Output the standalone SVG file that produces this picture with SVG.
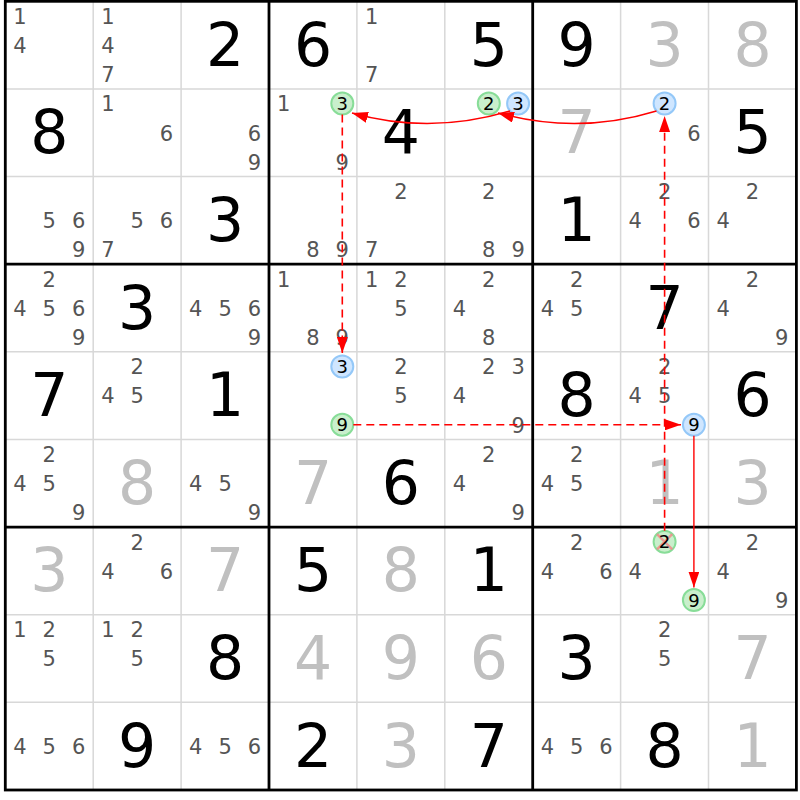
<svg xmlns="http://www.w3.org/2000/svg" width="800" height="800" viewBox="0 0 800 800">
<style>
text{font-family:"DejaVu Sans","Verdana","Liberation Sans",sans-serif;text-anchor:middle}
.g{font-size:60px;fill:#000}
.s{font-size:60px;fill:#c0c0c0}
.c{font-size:21px;fill:#555}
.k{font-size:18px;fill:#000}
.thin{stroke:#d8d8d8;stroke-width:1.5}
.thick{stroke:#000;stroke-width:2.8;fill:none}
.cg{fill:#c9efcc;stroke:#88dd98;stroke-width:2}
.cb{fill:#cfe6ff;stroke:#94c8f8;stroke-width:2}
.x{stroke:#f08a8a;stroke-width:2.5;stroke-opacity:0.85}
.ar{fill:none;stroke:#ff0000;stroke-width:1.4}
.da{stroke-dasharray:8 5;stroke-width:1.6}
</style>
<defs>
<marker id="ah" viewBox="0 0 16 11" refX="16" refY="5.5" markerWidth="16" markerHeight="11" markerUnits="userSpaceOnUse" orient="auto"><path d="M0,0 L16,5.5 L0,11 z" fill="#ff0000"/></marker>
</defs>
<rect x="0" y="0" width="800" height="800" fill="#fff"/>
<g id="grid">
<path class="thin" d="M93.2,1.3V790M181.1,1.3V790M356.9,1.3V790M444.8,1.3V790M620.6,1.3V790M708.5,1.3V790M5.3,88.9H796.4M5.3,176.6H796.4M5.3,351.8H796.4M5.3,439.5H796.4M5.3,614.7H796.4M5.3,702.3H796.4"/>
<path class="thick" d="M269,1.3V790M532.7,1.3V790M5.3,264.2H796.4M5.3,527.1H796.4"/>
<rect class="thick" x="5.3" y="1.3" width="791.1" height="788.7"/>
</g>
<g id="r1c1"><text class="c" x="20" y="23.7">1</text><text class="c" x="20" y="52.9">4</text></g>
<g id="r1c2"><text class="c" x="107.9" y="23.7">1</text><text class="c" x="107.9" y="52.9">4</text><text class="c" x="107.9" y="82.1">7</text></g>
<g id="r1c3"><text class="g" x="225.1" y="65.6">2</text></g>
<g id="r1c4"><text class="g" x="313" y="65.6">6</text></g>
<g id="r1c5"><text class="c" x="371.6" y="23.7">1</text><text class="c" x="371.6" y="82.1">7</text></g>
<g id="r1c6"><text class="g" x="488.8" y="65.6">5</text></g>
<g id="r1c7"><text class="g" x="576.7" y="65.6">9</text></g>
<g id="r1c8"><text class="s" x="664.6" y="65.6">3</text></g>
<g id="r1c9"><text class="s" x="752.5" y="65.6">8</text></g>

<g id="r2c1"><text class="g" x="49.3" y="153.2">8</text></g>
<g id="r2c2"><text class="c" x="107.9" y="111.3">1</text><text class="c" x="166.5" y="140.5">6</text></g>
<g id="r2c3"><text class="c" x="254.4" y="140.5">6</text><text class="c" x="254.4" y="169.7">9</text></g>
<g id="r2c4"><text class="c" x="283.7" y="111.3">1</text><circle class="cg" cx="342.3" cy="103.5" r="11"/><text class="k" x="342.3" y="110">3</text><text class="c" x="342.3" y="169.7">9</text></g>
<g id="r2c5"><text class="g" x="400.9" y="153.2">4</text></g>
<g id="r2c6"><circle class="cg" cx="488.8" cy="103.5" r="11"/><text class="k" x="488.8" y="110">2</text><circle class="cb" cx="518.1" cy="103.5" r="11"/><text class="k" x="518.1" y="110">3</text></g>
<g id="r2c7"><text class="s" x="576.7" y="153.2">7</text></g>
<g id="r2c8"><circle class="cb" cx="664.6" cy="103.5" r="11"/><text class="k" x="664.6" y="110">2</text><text class="c" x="693.9" y="140.5">6</text></g>
<g id="r2c9"><text class="g" x="752.5" y="153.2">5</text></g>

<g id="r3c1"><text class="c" x="49.3" y="228.2">5</text><text class="c" x="78.6" y="228.2">6</text><text class="c" x="78.6" y="257.4">9</text></g>
<g id="r3c2"><text class="c" x="137.2" y="228.2">5</text><text class="c" x="166.5" y="228.2">6</text><text class="c" x="107.9" y="257.4">7</text></g>
<g id="r3c3"><text class="g" x="225.1" y="240.9">3</text></g>
<g id="r3c4"><text class="c" x="313" y="257.4">8</text><text class="c" x="342.3" y="257.4">9</text></g>
<g id="r3c5"><text class="c" x="400.9" y="199">2</text><text class="c" x="371.6" y="257.4">7</text></g>
<g id="r3c6"><text class="c" x="488.8" y="199">2</text><text class="c" x="488.8" y="257.4">8</text><text class="c" x="518.1" y="257.4">9</text></g>
<g id="r3c7"><text class="g" x="576.7" y="240.9">1</text></g>
<g id="r3c8"><text class="c" x="664.6" y="199">2</text><text class="c" x="635.3" y="228.2">4</text><text class="c" x="693.9" y="228.2">6</text></g>
<g id="r3c9"><text class="c" x="752.5" y="199">2</text><text class="c" x="723.2" y="228.2">4</text></g>

<g id="r4c1"><text class="c" x="49.3" y="286.6">2</text><text class="c" x="20" y="315.8">4</text><text class="c" x="49.3" y="315.8">5</text><text class="c" x="78.6" y="315.8">6</text><text class="c" x="78.6" y="345">9</text></g>
<g id="r4c2"><text class="g" x="137.2" y="328.5">3</text></g>
<g id="r4c3"><text class="c" x="195.8" y="315.8">4</text><text class="c" x="225.1" y="315.8">5</text><text class="c" x="254.4" y="315.8">6</text><text class="c" x="254.4" y="345">9</text></g>
<g id="r4c4"><text class="c" x="283.7" y="286.6">1</text><text class="c" x="313" y="345">8</text><text class="c" x="342.3" y="345">9</text></g>
<g id="r4c5"><text class="c" x="371.6" y="286.6">1</text><text class="c" x="400.9" y="286.6">2</text><text class="c" x="400.9" y="315.8">5</text></g>
<g id="r4c6"><text class="c" x="488.8" y="286.6">2</text><text class="c" x="459.5" y="315.8">4</text><text class="c" x="488.8" y="345">8</text></g>
<g id="r4c7"><text class="c" x="576.7" y="286.6">2</text><text class="c" x="547.4" y="315.8">4</text><text class="c" x="576.7" y="315.8">5</text></g>
<g id="r4c8"><text class="g" x="664.6" y="328.5">7</text></g>
<g id="r4c9"><text class="c" x="752.5" y="286.6">2</text><text class="c" x="723.2" y="315.8">4</text><text class="c" x="781.8" y="345">9</text></g>

<g id="r5c1"><text class="g" x="49.3" y="416.1">7</text></g>
<g id="r5c2"><text class="c" x="137.2" y="374.2">2</text><text class="c" x="107.9" y="403.4">4</text><text class="c" x="137.2" y="403.4">5</text></g>
<g id="r5c3"><text class="g" x="225.1" y="416.1">1</text></g>
<g id="r5c4"><circle class="cb" cx="342.3" cy="366.4" r="11"/><text class="k" x="342.3" y="372.9">3</text><circle class="cg" cx="342.3" cy="424.8" r="11"/><text class="k" x="342.3" y="431.3">9</text></g>
<g id="r5c5"><text class="c" x="400.9" y="374.2">2</text><text class="c" x="400.9" y="403.4">5</text></g>
<g id="r5c6"><text class="c" x="488.8" y="374.2">2</text><text class="c" x="518.1" y="374.2">3</text><text class="c" x="459.5" y="403.4">4</text><text class="c" x="518.1" y="432.6">9</text></g>
<g id="r5c7"><text class="g" x="576.7" y="416.1">8</text></g>
<g id="r5c8"><text class="c" x="664.6" y="374.2">2</text><text class="c" x="635.3" y="403.4">4</text><text class="c" x="664.6" y="403.4">5</text><circle class="cb" cx="693.9" cy="424.8" r="11"/><text class="k" x="693.9" y="431.3">9</text></g>
<g id="r5c9"><text class="g" x="752.5" y="416.1">6</text></g>

<g id="r6c1"><text class="c" x="49.3" y="461.9">2</text><text class="c" x="20" y="491.1">4</text><text class="c" x="49.3" y="491.1">5</text><text class="c" x="78.6" y="520.3">9</text></g>
<g id="r6c2"><text class="s" x="137.2" y="503.8">8</text></g>
<g id="r6c3"><text class="c" x="195.8" y="491.1">4</text><text class="c" x="225.1" y="491.1">5</text><text class="c" x="254.4" y="520.3">9</text></g>
<g id="r6c4"><text class="s" x="313" y="503.8">7</text></g>
<g id="r6c5"><text class="g" x="400.9" y="503.8">6</text></g>
<g id="r6c6"><text class="c" x="488.8" y="461.9">2</text><text class="c" x="459.5" y="491.1">4</text><text class="c" x="518.1" y="520.3">9</text></g>
<g id="r6c7"><text class="c" x="576.7" y="461.9">2</text><text class="c" x="547.4" y="491.1">4</text><text class="c" x="576.7" y="491.1">5</text></g>
<g id="r6c8"><text class="s" x="664.6" y="503.8">1</text></g>
<g id="r6c9"><text class="s" x="752.5" y="503.8">3</text></g>

<g id="r7c1"><text class="s" x="49.3" y="591.4">3</text></g>
<g id="r7c2"><text class="c" x="137.2" y="549.5">2</text><text class="c" x="107.9" y="578.7">4</text><text class="c" x="166.5" y="578.7">6</text></g>
<g id="r7c3"><text class="s" x="225.1" y="591.4">7</text></g>
<g id="r7c4"><text class="g" x="313" y="591.4">5</text></g>
<g id="r7c5"><text class="s" x="400.9" y="591.4">8</text></g>
<g id="r7c6"><text class="g" x="488.8" y="591.4">1</text></g>
<g id="r7c7"><text class="c" x="576.7" y="549.5">2</text><text class="c" x="547.4" y="578.7">4</text><text class="c" x="606" y="578.7">6</text></g>
<g id="r7c8"><circle class="cg" cx="664.6" cy="541.7" r="11"/><path class="x" d="M657,534.1L672.2,549.3M672.2,534.1L657,549.3"/><text class="k" x="664.6" y="548.2">2</text><text class="c" x="635.3" y="578.7">4</text><circle class="cg" cx="693.9" cy="600.1" r="11"/><text class="k" x="693.9" y="606.6">9</text></g>
<g id="r7c9"><text class="c" x="752.5" y="549.5">2</text><text class="c" x="723.2" y="578.7">4</text><text class="c" x="781.8" y="607.9">9</text></g>

<g id="r8c1"><text class="c" x="20" y="637.1">1</text><text class="c" x="49.3" y="637.1">2</text><text class="c" x="49.3" y="666.3">5</text></g>
<g id="r8c2"><text class="c" x="107.9" y="637.1">1</text><text class="c" x="137.2" y="637.1">2</text><text class="c" x="137.2" y="666.3">5</text></g>
<g id="r8c3"><text class="g" x="225.1" y="679">8</text></g>
<g id="r8c4"><text class="s" x="313" y="679">4</text></g>
<g id="r8c5"><text class="s" x="400.9" y="679">9</text></g>
<g id="r8c6"><text class="s" x="488.8" y="679">6</text></g>
<g id="r8c7"><text class="g" x="576.7" y="679">3</text></g>
<g id="r8c8"><text class="c" x="664.6" y="637.1">2</text><text class="c" x="664.6" y="666.3">5</text></g>
<g id="r8c9"><text class="s" x="752.5" y="679">7</text></g>

<g id="r9c1"><text class="c" x="20" y="753.9">4</text><text class="c" x="49.3" y="753.9">5</text><text class="c" x="78.6" y="753.9">6</text></g>
<g id="r9c2"><text class="g" x="137.2" y="766.6">9</text></g>
<g id="r9c3"><text class="c" x="195.8" y="753.9">4</text><text class="c" x="225.1" y="753.9">5</text><text class="c" x="254.4" y="753.9">6</text></g>
<g id="r9c4"><text class="g" x="313" y="766.6">2</text></g>
<g id="r9c5"><text class="s" x="400.9" y="766.6">3</text></g>
<g id="r9c6"><text class="g" x="488.8" y="766.6">7</text></g>
<g id="r9c7"><text class="c" x="547.4" y="753.9">4</text><text class="c" x="576.7" y="753.9">5</text><text class="c" x="606" y="753.9">6</text></g>
<g id="r9c8"><text class="g" x="664.6" y="766.6">8</text></g>
<g id="r9c9"><text class="s" x="752.5" y="766.6">1</text></g>

<g id="connectors">
<path class="ar" d="M656.5,111 Q578,135 498,113" marker-end="url(#ah)"/>
<path class="ar" d="M510,111 Q430,135 352,113" marker-end="url(#ah)"/>
<path class="ar da" d="M342.3,114.5 V353" marker-end="url(#ah)"/>
<path class="ar da" d="M353.3,424.8 H681" marker-end="url(#ah)"/>
<path class="ar" d="M693.9,435.8 V587.5" marker-end="url(#ah)"/>
<path class="ar da" d="M664.6,530.7 V116" marker-end="url(#ah)"/>
</g>
</svg>
